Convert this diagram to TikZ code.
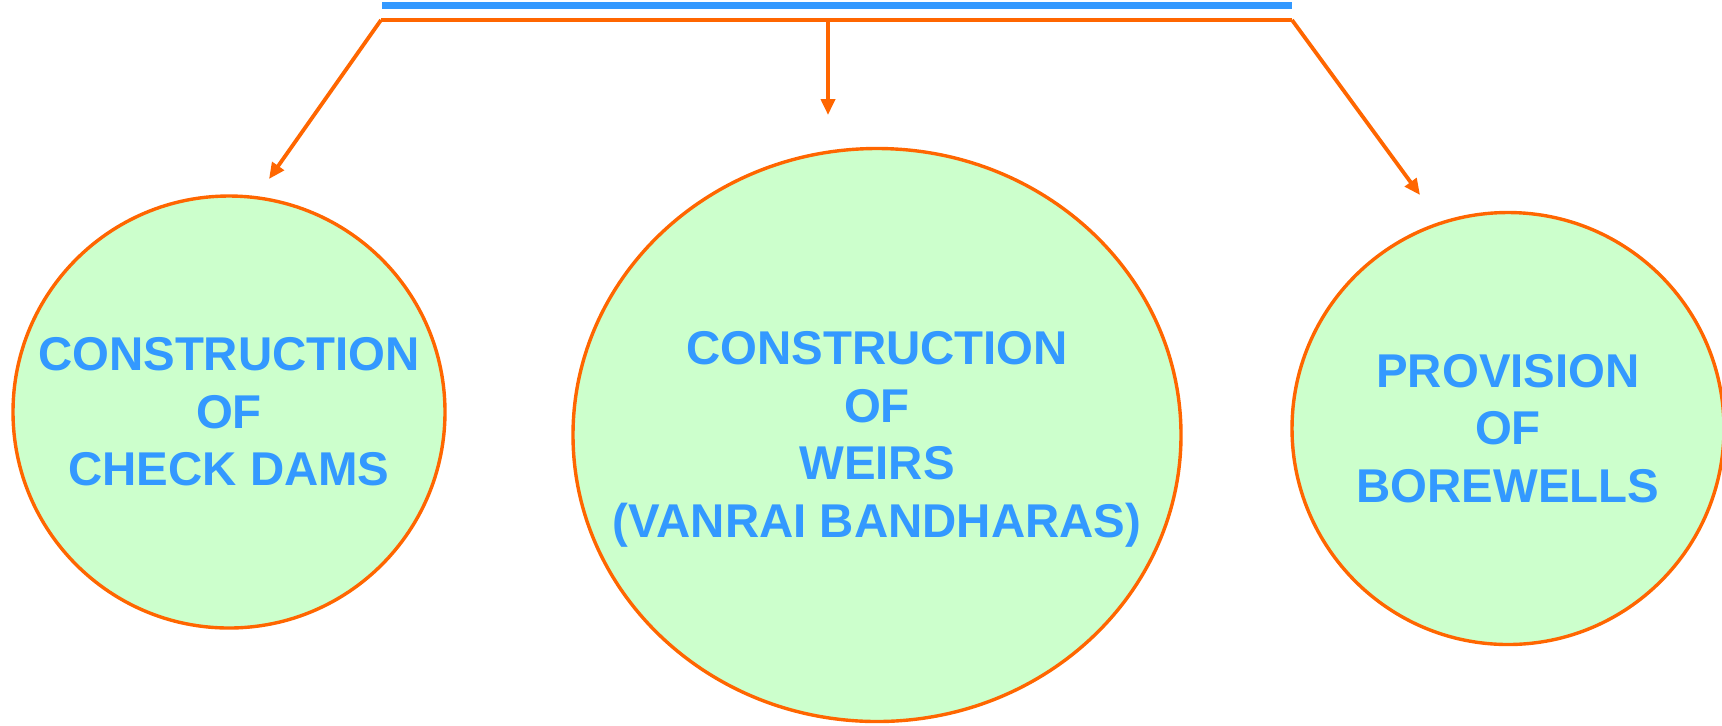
\documentclass[tikz,border=0pt]{standalone}
\usepackage{fontspec}
\setmainfont{Liberation Sans}
\usetikzlibrary{shapes.geometric,arrows.meta}
\definecolor{orangeln}{HTML}{FF6600}
\definecolor{bluetxt}{HTML}{3399FF}
\definecolor{greenfill}{HTML}{CCFFCC}
\tikzset{
  bubble/.style={ellipse, draw=orangeln, line width=1.7pt, fill=greenfill, inner sep=0pt},
  bubbletext/.style={text=bluetxt, align=center, inner sep=0pt,
    font=\fontsize{23.7pt}{28.75pt}\selectfont\bfseries},
  arr/.style={draw=orangeln, line width=1.9pt, -{Triangle[length=8pt,width=7pt]}},
  barline/.style={draw=orangeln, line width=1.9pt},
  topbar/.style={draw=bluetxt, line width=3.5pt}
}
\begin{document}
\begin{tikzpicture}[x=0.5pt,y=-0.5pt]
\useasboundingbox (0,0) rectangle (1722,725);
% top bars
\coordinate (bL) at (382,5.5);
\coordinate (bR) at (1292,5.5);
\coordinate (oL) at (381,20);
\coordinate (oM) at (828,20);
\coordinate (oR) at (1292,20);
\coordinate (tL) at (269,179);
\coordinate (tM) at (828,115);
\coordinate (tR) at (1420,195);
\draw[topbar] (bL) -- (bR);
\draw[barline] (oL) -- (oR);
% nodes
\node[bubble, minimum width=216pt, minimum height=216pt] (dams) at (229,412) {};
\node[bubbletext] (damstext) at (dams.center) {CONSTRUCTION\\OF\\CHECK DAMS};
\node[bubble, minimum width=304pt, minimum height=286.5pt] (weirs) at (877,435) {};
\node[bubbletext] (weirstext) at ([yshift=-2.25pt]weirs.center) {CONSTRUCTION\\OF\\WEIRS\\(VANRAI BANDHARAS)};
\node[bubble, minimum width=216pt, minimum height=216pt] (bore) at (1508,428.5) {};
\node[bubbletext] (boretext) at (bore.center) {PROVISION\\OF\\BOREWELLS};
% arrows
\draw[arr] (oL) -- (tL);
\draw[arr] (oM) -- (tM);
\draw[arr] (oR) -- (tR);
\end{tikzpicture}
\end{document}
